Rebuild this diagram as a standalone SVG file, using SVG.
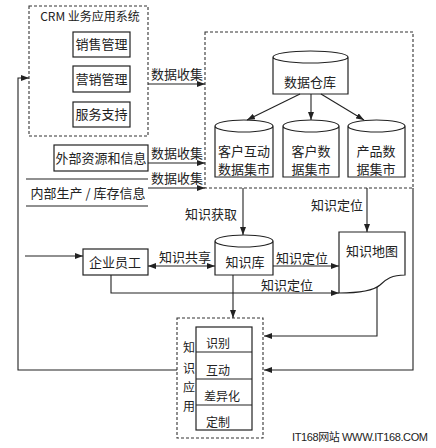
<svg xmlns="http://www.w3.org/2000/svg" width="436" height="448" viewBox="0 0 436 448">
<style>
.t{font-family:"Noto Sans CJK SC","Liberation Sans",sans-serif;font-size:13px;fill:#222;text-anchor:middle}
.s{font-size:12px}
.box{fill:#fff;stroke:#222;stroke-width:1.2}
.dash{fill:none;stroke:#333;stroke-width:1.1;stroke-dasharray:3,2}
.ln{fill:none;stroke:#222;stroke-width:1.1}
.cyl{fill:#fff;stroke:#222;stroke-width:1.2}
</style>
<defs>
<marker id="ah" viewBox="0 0 8 6" markerWidth="8" markerHeight="6" refX="8" refY="3" orient="auto-start-reverse" markerUnits="userSpaceOnUse">
<path d="M0,0 L8,3 L0,6 z" fill="#222"/>
</marker>
</defs>
<rect width="436" height="448" fill="#fff"/>

<g id="crm">
<rect class="dash" x="29" y="6" width="119" height="130"/>
<text class="t s" x="90" y="21">CRM 业务应用系统</text>
</g>
<g id="sales"><rect class="box" x="73" y="32" width="57" height="25"/><text class="t" x="101.5" y="49">销售管理</text></g>
<g id="marketing"><rect class="box" x="73" y="66" width="57" height="26"/><text class="t" x="101.5" y="84">营销管理</text></g>
<g id="service"><rect class="box" x="73" y="102" width="57" height="25"/><text class="t" x="101.5" y="119">服务支持</text></g>

<g id="external"><rect class="box" x="54" y="145" width="94" height="26"/><text class="t" x="101" y="163">外部资源和信息</text></g>
<g id="internal">
<path class="ln" d="M26,179 H148 M26,206 H148"/>
<text class="t" x="88" y="198">内部生产 / 库存信息</text>
</g>

<g id="dw-area"><rect class="dash" x="205" y="32" width="208" height="156"/></g>
<g id="warehouse">
<path class="cyl" d="M273,57 A37.5,6 0 0 1 348,57 V94 H273 Z M273,57 A37.5,6 0 0 0 348,57"/>
<text class="t" x="310" y="87">数据仓库</text>
</g>
<g id="mart1">
<path class="cyl" d="M215,126 A29,6 0 0 1 273,126 V177 H215 Z M215,126 A29,6 0 0 0 273,126"/>
<text class="t" x="244" y="156">客户互动</text><text class="t" x="244" y="174">数据集市</text>
</g>
<g id="mart2">
<path class="cyl" d="M283,126 A28,6 0 0 1 339,126 V177 H283 Z M283,126 A28,6 0 0 0 339,126"/>
<text class="t" x="311" y="156">客户数</text><text class="t" x="311" y="174">据集市</text>
</g>
<g id="mart3">
<path class="cyl" d="M348,126 A28.5,6 0 0 1 405,126 V177 H348 Z M348,126 A28.5,6 0 0 0 405,126"/>
<text class="t" x="376" y="156">产品数</text><text class="t" x="376" y="174">据集市</text>
</g>

<g id="kb">
<path class="cyl" d="M215,241 A29,6 0 0 1 273,241 V275 H215 Z M215,241 A29,6 0 0 0 273,241"/>
<text class="t" x="245" y="267">知识库</text>
</g>
<g id="kmap">
<path class="box" d="M339,232 H405 V275 C392,275 386,279 380,285 C372,292 355,293 339,293 Z"/>
<text class="t" x="372" y="256">知识地图</text>
</g>
<g id="staff"><rect class="box" x="83" y="249" width="65" height="26"/><text class="t" x="115" y="267">企业员工</text></g>

<g id="app">
<rect class="dash" x="177" y="318" width="86" height="120"/>
<rect class="box" x="196" y="327" width="56" height="103"/>
<path class="ln" d="M196,352 H252 M196,379 H252 M196,405 H252"/>
<text class="t s" x="189" y="352">知</text>
<text class="t s" x="189" y="373">识</text>
<text class="t s" x="189" y="392">应</text>
<text class="t s" x="189" y="411">用</text>
<text class="t s" x="218" y="348">识别</text>
<text class="t s" x="218" y="375">互动</text>
<text class="t s" x="222" y="401">差异化</text>
<text class="t s" x="218" y="427">定制</text>
</g>

<g id="connectors">
<path class="ln" marker-end="url(#ah)" d="M148,84 H205"/>
<path class="ln" marker-end="url(#ah)" d="M148,163 H205"/>
<path class="ln" marker-end="url(#ah)" d="M148,188 H205"/>
<path class="ln" marker-end="url(#ah)" d="M300,94 L247,120"/>
<path class="ln" marker-end="url(#ah)" d="M311,94 V120"/>
<path class="ln" marker-end="url(#ah)" d="M321,94 L364,120"/>
<path class="ln" marker-end="url(#ah)" d="M243,188 V235"/>
<path class="ln" marker-end="url(#ah)" d="M367,188 V232"/>
<path class="ln" marker-end="url(#ah)" d="M273,266 H339"/>
<path class="ln" marker-end="url(#ah)" d="M111,275 V293 H339"/>
<path class="ln" marker-start="url(#ah)" marker-end="url(#ah)" d="M148,266 H215"/>
<path class="ln" marker-end="url(#ah)" d="M233,275 V318"/>
<path class="ln" marker-end="url(#ah)" d="M377,287 V336 H264"/>
<path class="ln" marker-end="url(#ah)" d="M413,188 V370 H264"/>
<path class="ln" marker-end="url(#ah)" d="M177,370 H18 V78 H29"/>
<path class="ln" marker-end="url(#ah)" d="M25,256 H83"/>
<text class="t" x="177" y="79">数据收集</text>
<text class="t" x="177" y="158">数据收集</text>
<text class="t" x="177" y="183">数据收集</text>
<text class="t" x="211" y="219">知识获取</text>
<text class="t" x="337" y="210">知识定位</text>
<text class="t" x="302" y="263">知识定位</text>
<text class="t" x="287" y="290">知识定位</text>
<text class="t" x="185" y="262">知识共享</text>
</g>
<text x="292" y="441" textLength="136" lengthAdjust="spacing" style="font-family:'Liberation Sans','Noto Sans CJK SC',sans-serif;font-size:11px;fill:#222">IT168网站 WWW.IT168.COM</text>
</svg>
